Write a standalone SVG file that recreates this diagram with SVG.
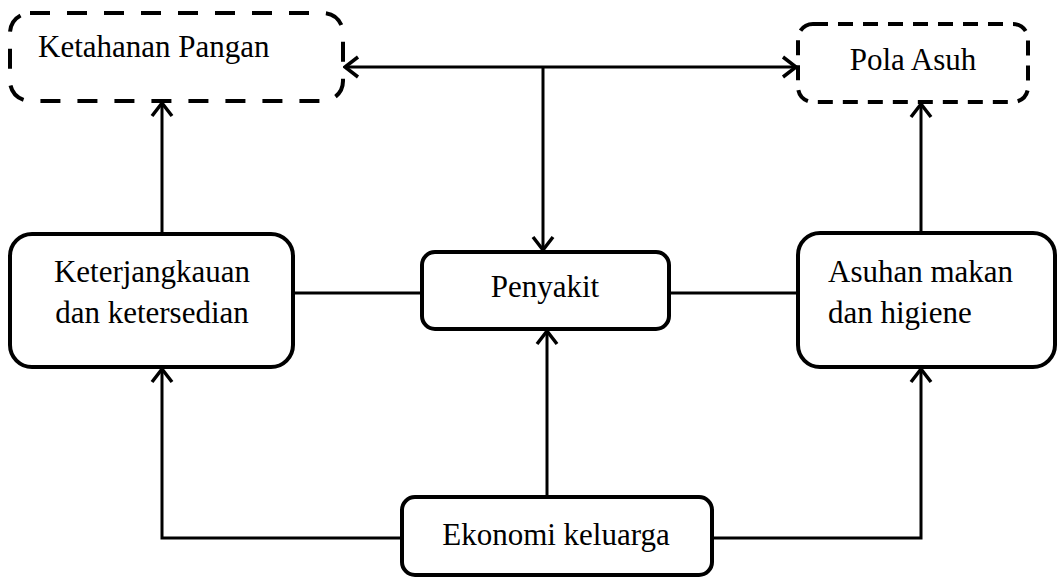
<svg xmlns="http://www.w3.org/2000/svg" width="1057" height="577" viewBox="0 0 1057 577">
<style>
.box{fill:#fff;stroke:#000;stroke-width:4}
.dash1{fill:#fff;stroke:#000;stroke-width:4;stroke-dasharray:20 17}
.dash2{fill:#fff;stroke:#000;stroke-width:4;stroke-dasharray:15 10}
.t{font-family:"Liberation Serif","Times New Roman",serif;font-size:31px;fill:#000}
.c{fill:none;stroke:#000;stroke-width:3}
</style>
<defs>
<marker id="ah" markerUnits="userSpaceOnUse" markerWidth="30" markerHeight="30" refX="15" refY="15" orient="auto-start-reverse" viewBox="0 0 30 30">
<path d="M2,5 L15,15 L2,25" fill="none" stroke="#000" stroke-width="3.5"/>
</marker>
</defs>
<rect width="1057" height="577" fill="#fff"/>
<g id="connectors">
<line class="c" x1="162" y1="234" x2="162" y2="103" marker-end="url(#ah)"/>
<line class="c" x1="345" y1="67" x2="796" y2="67" marker-start="url(#ah)" marker-end="url(#ah)"/>
<line class="c" x1="543" y1="67" x2="543" y2="250" marker-end="url(#ah)"/>
<line class="c" x1="293" y1="293" x2="422" y2="293"/>
<line class="c" x1="669" y1="293" x2="798" y2="293"/>
<line class="c" x1="921" y1="233" x2="921" y2="104" marker-end="url(#ah)"/>
<line class="c" x1="547" y1="497" x2="547" y2="331" marker-end="url(#ah)"/>
<polyline class="c" points="402,538 162,538 162,369" marker-end="url(#ah)"/>
<polyline class="c" points="712,538 921,538 921,369" marker-end="url(#ah)"/>
</g>
<g id="ketahanan">
<rect class="dash1" x="10" y="13" width="333" height="88" rx="20"/>
<text class="t" x="38" y="57">Ketahanan Pangan</text>
</g>
<g id="pola">
<rect class="dash2" x="798" y="24" width="230" height="78" rx="15"/>
<text class="t" x="913" y="70" text-anchor="middle">Pola Asuh</text>
</g>
<g id="keterjangkauan">
<rect class="box" x="10" y="234" width="283" height="133" rx="22"/>
<text class="t" x="152" y="282" text-anchor="middle">Keterjangkauan</text>
<text class="t" x="152" y="323" text-anchor="middle">dan ketersedian</text>
</g>
<g id="penyakit">
<rect class="box" x="422" y="252" width="247" height="77" rx="13"/>
<text class="t" x="545" y="297" text-anchor="middle">Penyakit</text>
</g>
<g id="asuhan">
<rect class="box" x="798" y="233" width="257" height="134" rx="22"/>
<text class="t" x="828" y="282">Asuhan makan</text>
<text class="t" x="828" y="323">dan higiene</text>
</g>
<g id="ekonomi">
<rect class="box" x="402" y="497" width="310" height="78" rx="13"/>
<text class="t" x="556" y="545" text-anchor="middle">Ekonomi keluarga</text>
</g>
</svg>
